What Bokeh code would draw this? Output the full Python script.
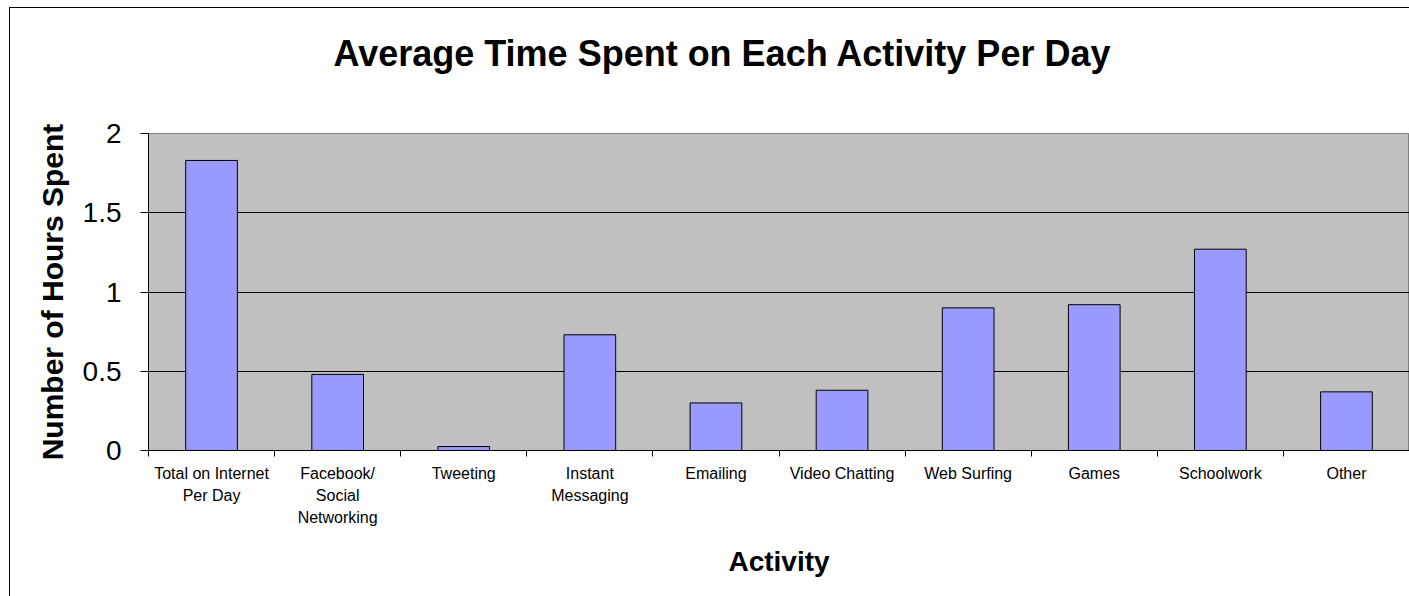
from bokeh.plotting import figure
from bokeh.models import Range1d, FixedTicker, Title, ColumnDataSource
from bokeh.embed import file_html
from bokeh.resources import INLINE

# ---- data ----
activities = ["Total on Internet Per Day", "Facebook/ Social Networking", "Tweeting",
              "Instant Messaging", "Emailing", "Video Chatting", "Web Surfing",
              "Games", "Schoolwork", "Other"]
tick_labels = ["Total on Internet\nPer Day", "Facebook/\nSocial\nNetworking", "Tweeting",
               "Instant\nMessaging", "Emailing", "Video Chatting", "Web Surfing",
               "Games", "Schoolwork", "Other"]
hours = [1.83, 0.48, 0.025, 0.73, 0.30, 0.38, 0.90, 0.92, 1.27, 0.37]
y_ticks = [0, 0.5, 1, 1.5, 2]
y_tick_labels = ["0", "0.5", "1", "1.5", "2"]

title_text = "Average Time Spent on Each Activity Per Day"
x_title = "Activity"
y_title = "Number of Hours Spent"

n = len(activities)
centers = [i + 0.5 for i in range(n)]
src = ColumnDataSource(dict(x=centers, top=hours, name=activities))

FONT = "Liberation Sans"

p = figure(width=1409, height=596, output_backend="svg", toolbar_location=None,
           title=None,
           x_range=Range1d(0, n), y_range=Range1d(0, 2),
           min_border_left=148, min_border_right=0, min_border_top=133,
           min_border_bottom=146)

# outer chart border (left and top edges) drawn behind the transparent canvas border
p.border_fill_alpha = 0
p.styles = {
    "background-color": "#FFFFFF",
    "background-image": "linear-gradient(#000000, #000000), linear-gradient(#000000, #000000)",
    "background-size": "1px 100%, 100% 1px",
    "background-position": "9px 7px, 9px 7px",
    "background-repeat": "no-repeat",
}

p.background_fill_color = "#C0C0C0"
p.outline_line_color = "#808080"
p.outline_line_width = 1

p.vbar(x="x", top="top", width=0.41, source=src, fill_color="#9999FF",
       line_color="#000000", line_width=1)

# grid
p.xgrid.visible = False
p.ygrid.ticker = FixedTicker(ticks=[0.5, 1, 1.5])
p.ygrid.grid_line_color = "#000000"
p.ygrid.grid_line_width = 1

# y axis
ya = p.yaxis[0]
ya.ticker = FixedTicker(ticks=y_ticks)
ya.major_label_overrides = {t: l for t, l in zip(y_ticks, y_tick_labels)}
ya.major_tick_out = 8
ya.major_tick_in = 0
ya.minor_tick_out = 0
ya.minor_tick_in = 0
ya.axis_line_color = "#000000"
ya.major_tick_line_color = "#000000"
ya.major_label_text_font = FONT
ya.major_label_text_font_size = "28px"
ya.major_label_text_color = "#000000"
ya.major_label_standoff = 19
ya.axis_label = y_title
ya.axis_label_text_font = FONT
ya.axis_label_text_font_style = "bold"
ya.axis_label_text_font_size = "30px"
ya.axis_label_text_color = "#000000"
ya.axis_label_standoff = 11

# x axis
xa = p.xaxis[0]
xa.ticker = FixedTicker(ticks=centers, minor_ticks=list(range(n + 1)))
xa.major_label_overrides = {c: l for c, l in zip(centers, tick_labels)}
xa.major_tick_out = 0
xa.major_tick_in = 0
xa.minor_tick_out = 6
xa.minor_tick_in = 0
xa.minor_tick_line_color = "#000000"
xa.axis_line_color = "#000000"
xa.major_label_text_font = FONT
xa.major_label_text_font_size = "16px"
xa.major_label_text_line_height = 1.3
xa.major_label_text_color = "#000000"
xa.major_label_standoff = 8
xa.axis_label = x_title
xa.axis_label_text_font = FONT
xa.axis_label_text_font_style = "bold"
xa.axis_label_text_font_size = "28px"
xa.axis_label_text_color = "#000000"
xa.axis_label_standoff = 17

# spacer between frame and title, then the chart title
p.add_layout(Title(text=" ", text_font_size="1px", standoff=52), "above")
p.add_layout(Title(text=title_text, text_font=FONT, text_font_style="bold",
                   text_font_size="36px", text_color="#000000",
                   align="left", offset=185, standoff=10), "above")

open("out.html", "w").write(file_html(p, INLINE))
